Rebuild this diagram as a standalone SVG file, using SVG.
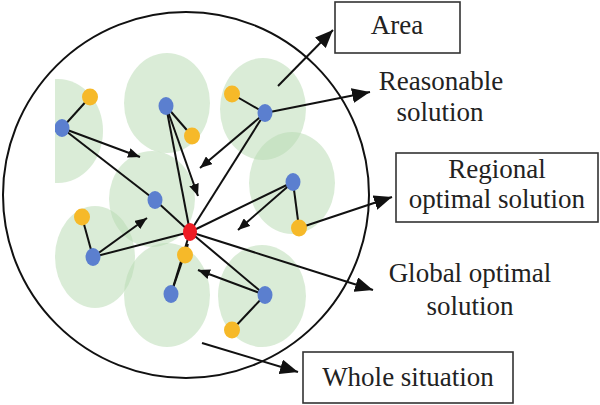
<svg xmlns="http://www.w3.org/2000/svg" width="600" height="405" viewBox="0 0 600 405">
<style>
.area{fill:#b9dbb3;opacity:0.52}
.ln{stroke:#111;stroke-width:2;fill:none}
.a1{marker-end:url(#hs)}
.a2{marker-end:url(#hl)}
.blue{fill:#5b7fcf}
.yel{fill:#f6b929}
.red{fill:#ee1c24}
.box{fill:#fff;stroke:#333;stroke-width:1.6}
.t{font-family:"Liberation Serif","Times New Roman",serif;font-size:27px;fill:#222;text-anchor:middle}
</style>
<defs>
<marker id="hs" markerUnits="userSpaceOnUse" markerWidth="12" markerHeight="10" refX="12" refY="5" orient="auto"><path d="M0,0 L12,5 L0,10 z" fill="#111"/></marker>
<marker id="hl" markerUnits="userSpaceOnUse" markerWidth="18" markerHeight="15" refX="18" refY="7.5" orient="auto"><path d="M0,0 L18,7.5 L0,15 z" fill="#111"/></marker>
<clipPath id="clipL"><rect x="55" y="0" width="600" height="405"/></clipPath>
</defs>
<rect width="600" height="405" fill="#fff"/>
<g id="whole-circle"><circle cx="186" cy="195" r="183" fill="none" stroke="#111" stroke-width="2"/></g>
<g id="areas">
<ellipse class="area" cx="58" cy="131" rx="45" ry="52" clip-path="url(#clipL)"/>
<ellipse class="area" cx="167" cy="103" rx="43" ry="50"/>
<ellipse class="area" cx="263" cy="109" rx="43" ry="51"/>
<ellipse class="area" cx="292" cy="183" rx="43" ry="51"/>
<ellipse class="area" cx="152" cy="199" rx="43" ry="48"/>
<ellipse class="area" cx="95" cy="257" rx="40" ry="51"/>
<ellipse class="area" cx="167" cy="295" rx="43" ry="52"/>
<ellipse class="area" cx="262" cy="296" rx="44" ry="51"/>
</g>
<g id="connectors">
<line class="ln" x1="90" y1="97" x2="62" y2="128"/>
<line class="ln" x1="166" y1="106" x2="192" y2="136"/>
<line class="ln" x1="232" y1="94" x2="265" y2="113"/>
<line class="ln" x1="293" y1="182" x2="299" y2="228"/>
<line class="ln" x1="82" y1="217" x2="93" y2="257"/>
<line class="ln" x1="265" y1="295" x2="232" y2="330"/>
<line class="ln a1" x1="62" y1="128" x2="140" y2="157"/>
<line class="ln" x1="62" y1="128" x2="155" y2="200"/>
<line class="ln" x1="155" y1="200" x2="190" y2="232"/>
<line class="ln a1" x1="166" y1="106" x2="198" y2="196"/>
<line class="ln" x1="166" y1="106" x2="190" y2="232"/>
<line class="ln a2" x1="265" y1="113" x2="370" y2="92"/>
<line class="ln a1" x1="265" y1="113" x2="200" y2="168"/>
<line class="ln" x1="265" y1="113" x2="190" y2="232"/>
<line class="ln a2" x1="278" y1="86" x2="333" y2="30"/>
<line class="ln" x1="293" y1="182" x2="190" y2="232"/>
<line class="ln a1" x1="293" y1="182" x2="238" y2="230"/>
<line class="ln a2" x1="299" y1="228" x2="392" y2="197"/>
<line class="ln a2" x1="190" y1="232" x2="373" y2="290"/>
<line class="ln a1" x1="93" y1="257" x2="147" y2="218"/>
<line class="ln" x1="93" y1="257" x2="190" y2="232"/>
<line class="ln" x1="171" y1="294" x2="190" y2="232"/>
<line class="ln a1" x1="171" y1="294" x2="188" y2="244"/>
<line class="ln" x1="265" y1="295" x2="190" y2="232"/>
<line class="ln a1" x1="265" y1="295" x2="198" y2="270"/>
<line class="ln a2" x1="202" y1="343" x2="298" y2="372"/>
</g>
<g id="yellow-nodes">
<ellipse id="y1" class="yel" cx="90" cy="97" rx="8" ry="8.5"/>
<ellipse id="y2" class="yel" cx="192" cy="136" rx="8" ry="8.5"/>
<ellipse id="y3" class="yel" cx="232" cy="94" rx="8" ry="8.5"/>
<ellipse id="y4" class="yel" cx="299" cy="228" rx="8" ry="8.5"/>
<ellipse id="y5" class="yel" cx="82" cy="217" rx="8" ry="8.5"/>
<ellipse id="y6" class="yel" cx="185" cy="255" rx="8" ry="8.5"/>
<ellipse id="y7" class="yel" cx="232" cy="330" rx="8" ry="8.5"/>
</g>
<g id="blue-nodes">
<ellipse id="b1" class="blue" cx="62" cy="128" rx="7.5" ry="9" clip-path="url(#clipL)"/>
<ellipse id="b2" class="blue" cx="166" cy="106" rx="7.5" ry="9"/>
<ellipse id="b3" class="blue" cx="265" cy="113" rx="7.5" ry="9"/>
<ellipse id="b4" class="blue" cx="293" cy="182" rx="7.5" ry="9"/>
<ellipse id="b5" class="blue" cx="155" cy="200" rx="7.5" ry="9"/>
<ellipse id="b6" class="blue" cx="93" cy="257" rx="7.5" ry="9"/>
<ellipse id="b7" class="blue" cx="171" cy="294" rx="7.5" ry="9"/>
<ellipse id="b8" class="blue" cx="265" cy="295" rx="7.5" ry="9"/>
</g>
<g id="global-optimum"><ellipse class="red" cx="190" cy="232" rx="7" ry="9"/></g>
<g id="label-area"><rect class="box" x="335" y="2" width="125" height="51"/><text class="t" x="397" y="34">Area</text></g>
<g id="label-reasonable"><text class="t" x="441" y="90">Reasonable</text><text class="t" x="440" y="121">solution</text></g>
<g id="label-regional"><rect class="box" x="396" y="153" width="202" height="69"/><text class="t" x="497" y="178">Regional</text><text class="t" x="497" y="208">optimal solution</text></g>
<g id="label-global"><text class="t" x="470" y="282">Global optimal</text><text class="t" x="470" y="315">solution</text></g>
<g id="label-whole"><rect class="box" x="303" y="352" width="210" height="51"/><text class="t" x="408" y="386">Whole situation</text></g>
</svg>
